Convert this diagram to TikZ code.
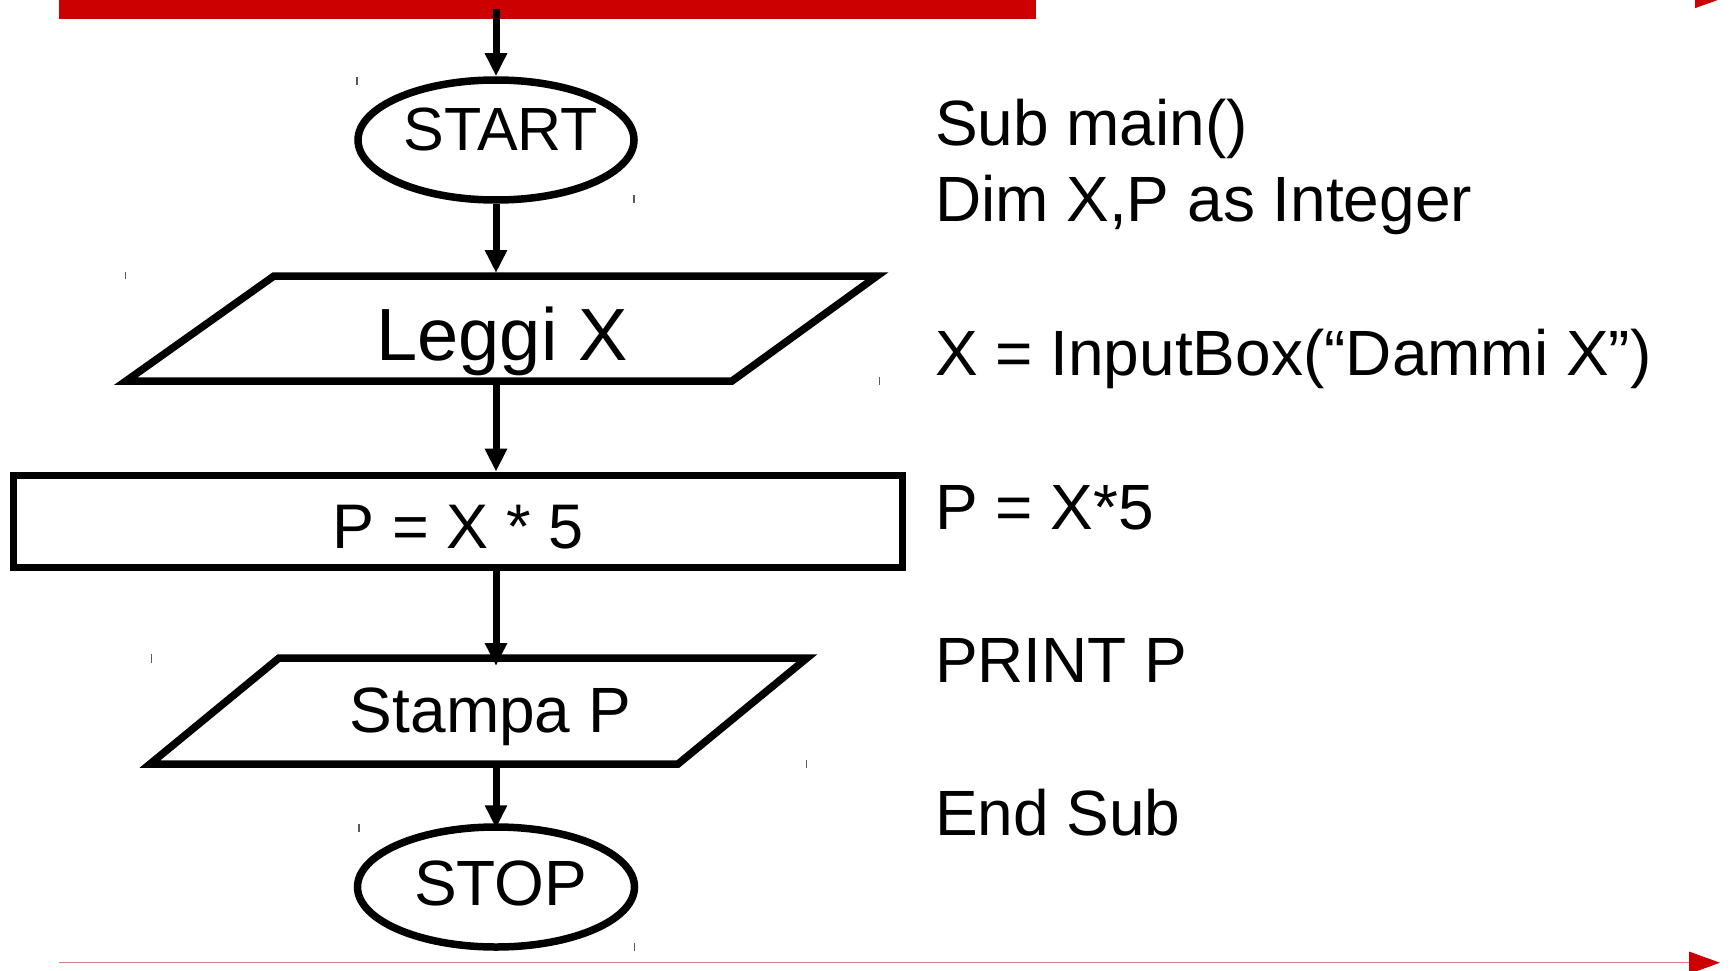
\documentclass[tikz,border=0pt]{standalone}
\usepackage{fontspec}
\setmainfont{Liberation Sans}
\usetikzlibrary{arrows.meta,shapes.geometric}
\definecolor{barred}{RGB}{204,0,0}
\definecolor{linered}{RGB}{224,122,122}
\definecolor{tickgray}{RGB}{90,90,90}
\begin{document}
\begin{tikzpicture}[x=1pt,y=-1pt,
  shp/.style={draw=black, line width=7.5pt},
  conn/.style={draw=black, line width=7pt, -{Triangle[length=23pt,width=21pt]}},
  redline/.style={draw=linered, line width=1.5pt, -{Triangle[length=31pt,width=22pt,color=barred]}},
  lbl/.style={anchor=base, inner sep=0pt, outer sep=0pt},
  code/.style={anchor=base west, inner sep=0pt, outer sep=0pt, font=\fontsize{64}{76}\selectfont},
  tick/.style={draw=tickgray, line width=1.5pt}]
\useasboundingbox (0,0) rectangle (1731,971);
\clip (0,0) rectangle (1731,971);

% top bar and red arrows
\node[fill=barred, minimum width=977pt, minimum height=18.7pt, inner sep=0pt, outer sep=0pt] (bar) at (547,9.35) {};
\coordinate (tl) at (1500,-3);
\coordinate (tr) at (1726,-3);
\draw[redline] (tl) -- (tr);
\coordinate (bl) at (58.5,962.7);
\coordinate (br) at (1720,962.7);
\draw[redline] (bl) -- (br);

% shapes
\node[ellipse, shp, minimum width=276pt, minimum height=120pt, inner sep=0pt] (start) at (496,140) {};
\coordinate (leggiT) at (496,273);
\coordinate (leggiB) at (496,381);
\draw[shp] (126,381) -- (274,276) -- (877,276) -- (732,381) -- cycle;
\node[shp, minimum width=889pt, minimum height=92pt, inner sep=0pt] (calc) at (458,521.4) {};
\coordinate (stampaT) at (496,666);
\coordinate (stampaB) at (496,762);
\draw[shp] (150,764) -- (279,658) -- (807,658) -- (678,764) -- cycle;
\node[ellipse, shp, minimum width=277pt, minimum height=120pt, inner sep=0pt] (stop) at (496,887) {};

% connectors
\draw[conn] (bar.center -| start.north) -- (start.north);
\draw[conn] (start.south) -- (leggiT);
\draw[conn] (leggiB) -- (leggiB |- calc.north);
\draw[conn] (leggiB |- calc.south) -- (stampaT);
\draw[conn] (stampaB) -- ([yshift=-5pt]stop.north);

% labels in shapes
\node[lbl, font=\fontsize{61}{73}\selectfont] (tstart) at (501,150.7) {START};
\node[lbl, font=\fontsize{74}{88}\selectfont] (tleggi) at (502,360) {Leggi X};
\node[lbl, font=\fontsize{63}{75}\selectfont] (tcalc) at (458,548.7) {P = X * 5};
\node[lbl, font=\fontsize{64}{76}\selectfont] (tstampa) at (490.5,732) {Stampa P};
\node[lbl, font=\fontsize{64}{76}\selectfont] (tstop) at (500.7,905) {STOP};

% code
\node[code] (c1) at (935,145.5) {Sub main()};
\node[code] (c2) at (935,221.7) {Dim X,P as Integer};
\node[code] (c3) at (935,375) {X = InputBox(“Dammi X”)};
\node[code] (c4) at (935,529) {P = X*5};
\node[code] (c5) at (935,682.3) {PRINT P};
\node[code] (c6) at (935,835.7) {End Sub};

% small handle ticks
\draw[tick] (357,77) -- (357,85);
\draw[tick] (634,195) -- (634,203);
\draw[tick] (125.3,271.7) -- (125.3,279.3);
\draw[tick] (879.3,377) -- (879.3,385);
\draw[tick] (151.7,654) -- (151.7,662.7);
\draw[tick] (806.7,760) -- (806.7,767.7);
\draw[tick] (359,824) -- (359,832);
\draw[tick] (634.6,942.7) -- (634.6,950.7);
\end{tikzpicture}
\end{document}
